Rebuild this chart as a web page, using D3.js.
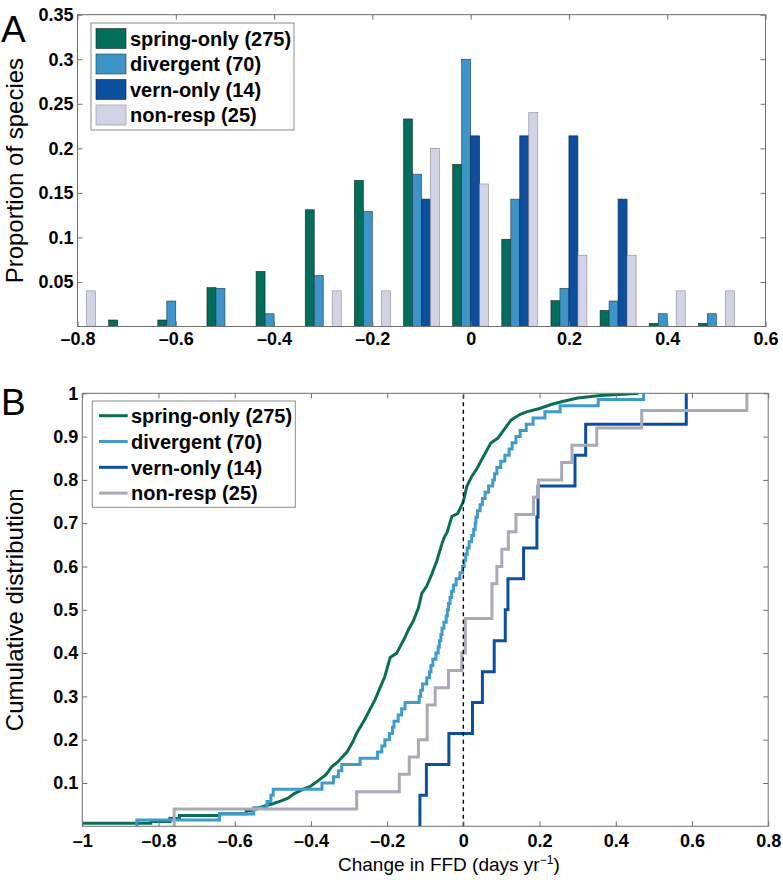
<!DOCTYPE html>
<html><head><meta charset="utf-8">
<script src="https://cdn.jsdelivr.net/npm/d3@7"></script>
<style>body{margin:0;background:#fff}</style>
</head><body>
<svg id="c" width="783" height="880"></svg>
<script>
// ---------- DATA ----------
const seriesNames = ["spring-only (275)", "divergent (70)", "vern-only (14)", "non-resp (25)"];
// Panel A: histogram bin centres and proportions
const binCenters = [-0.8, -0.7, -0.6, -0.5, -0.4, -0.3, -0.2, -0.1, 0, 0.1, 0.2, 0.3, 0.4, 0.5];
const springProp  = [0, 0.0073, 0.0073, 0.0436, 0.0618, 0.131, 0.164, 0.233, 0.182, 0.098, 0.029, 0.018, 0.0036, 0.0036];
const divergProp  = [0, 0, 0.0286, 0.0429, 0.0143, 0.0571, 0.129, 0.171, 0.300, 0.143, 0.0429, 0.0286, 0.0143, 0.0143];
const vernProp    = [0, 0, 0, 0, 0, 0, 0, 0.143, 0.214, 0.214, 0.214, 0.143, 0, 0];
const nonrespProp = [0.04, 0, 0, 0, 0, 0.04, 0.04, 0.20, 0.16, 0.24, 0.08, 0.08, 0.04, 0.04];
const xTicksA = [-0.8, -0.6, -0.4, -0.2, 0, 0.2, 0.4, 0.6];
const yTicksA = [0.05, 0.1, 0.15, 0.2, 0.25, 0.3, 0.35];

// Panel B: spring-only cumulative curve read as (change, cumulative) points
const springCdfX = [-1.0, -0.82, -0.82, -0.77, -0.77, -0.745, -0.745, -0.64, -0.64, -0.57, -0.57, -0.555, -0.53, -0.50, -0.48, -0.46, -0.445, -0.42, -0.40, -0.38, -0.36, -0.345, -0.33, -0.32, -0.305, -0.29, -0.28, -0.26, -0.245, -0.232, -0.219, -0.206, -0.192, -0.175, -0.166, -0.155, -0.144, -0.131, -0.118, -0.109, -0.096, -0.083, -0.07, -0.057, -0.05, -0.043, -0.03, -0.015, 0.0, 0.009, 0.022, 0.035, 0.052, 0.072, 0.09, 0.105, 0.125, 0.148, 0.166, 0.2, 0.23, 0.26, 0.3, 0.36, 0.42, 0.46];
const springCdfP = [0.007, 0.007, 0.011, 0.011, 0.018, 0.018, 0.025, 0.025, 0.029, 0.029, 0.036, 0.036, 0.045, 0.052, 0.058, 0.065, 0.075, 0.086, 0.093, 0.106, 0.120, 0.138, 0.148, 0.158, 0.172, 0.195, 0.215, 0.245, 0.27, 0.292, 0.319, 0.346, 0.39, 0.40, 0.415, 0.433, 0.454, 0.475, 0.504, 0.538, 0.555, 0.582, 0.612, 0.650, 0.668, 0.678, 0.716, 0.722, 0.750, 0.785, 0.808, 0.825, 0.853, 0.885, 0.896, 0.914, 0.938, 0.951, 0.957, 0.965, 0.974, 0.981, 0.989, 0.995, 0.998, 1.0];
// Panel B: per-species FFD changes (sorted) for the other groups
const divergValues = [-0.857, -0.640, -0.550, -0.515, -0.505, -0.499, -0.371, -0.341, -0.328, -0.319,
  -0.271, -0.225, -0.214, -0.206, -0.194, -0.186, -0.182, -0.171, -0.162, -0.153,
  -0.116, -0.112, -0.107, -0.096, -0.089, -0.085, -0.080, -0.072, -0.066, -0.063,
  -0.059, -0.056, -0.051, -0.045, -0.042, -0.039, -0.035, -0.031, -0.026, -0.019,
  -0.009, -0.002, 0.002, 0.006, 0.010, 0.015, 0.022, 0.027, 0.031, 0.033,
  0.037, 0.044, 0.050, 0.057, 0.066, 0.077, 0.082, 0.088, 0.098, 0.109,
  0.120, 0.128, 0.138, 0.149, 0.165, 0.183, 0.214, 0.254, 0.354, 0.473];
const vernValues = [-0.114, -0.097, -0.038, 0.024, 0.050, 0.081, 0.110, 0.117, 0.158, 0.193, 0.196, 0.293, 0.321, 0.585];
const nonrespValues = [-0.759, -0.280, -0.168, -0.142, -0.118, -0.095, -0.095, -0.074, -0.039, -0.004,
  0.005, 0.005, 0.075, 0.075, 0.088, 0.101, 0.118, 0.138, 0.184, 0.197,
  0.258, 0.285, 0.350, 0.468, 0.744];
const xTicksB = [-1, -0.8, -0.6, -0.4, -0.2, 0, 0.2, 0.4, 0.6, 0.8];
const yTicksB = [0.1, 0.2, 0.3, 0.4, 0.5, 0.6, 0.7, 0.8, 0.9, 1];

// ---------- STYLE ----------
const FONT = '"Liberation Sans", Arial, Helvetica, sans-serif';
const barFill = ["#006e5a", "#3c94c8", "#0b4f9e", "#d3d3e6"];
const barEdge = ["#1c2a26", "#1f3a4c", "#0d2345", "#8a8a96"];
const lineCol = ["#0a6e55", "#3f9bcc", "#0d4f9f", "#a9a9b8"];
const frameCol = "#6f6f6f";
const fmt = v => (v < 0 ? "\u2013" : "") + String(Math.abs(v));

const svg = d3.select("#c");

function frameAndAxes(g, x, y, xt, yt, padB, padL) {
  const [x0, x1] = x.range(), [y0, y1] = y.range();
  const bottom = d3.axisBottom(x).tickValues(xt).tickSize(-5).tickPadding(padB).tickFormat(fmt);
  const top = d3.axisTop(x).tickValues(xt).tickSize(-5).tickFormat("");
  const left = d3.axisLeft(y).tickValues(yt).tickSize(-5).tickPadding(padL).tickFormat(fmt);
  const right = d3.axisRight(y).tickValues(yt).tickSize(-5).tickFormat("");
  const axes = [
    g.append("g").attr("transform", `translate(0,${y0})`).call(bottom),
    g.append("g").attr("transform", `translate(0,${y1})`).call(top),
    g.append("g").attr("transform", `translate(${x0},0)`).call(left),
    g.append("g").attr("transform", `translate(${x1},0)`).call(right)
  ];
  axes.forEach(a => {
    a.select(".domain").remove();
    a.selectAll("line").attr("stroke", frameCol).attr("stroke-width", 1);
    a.selectAll("text").attr("fill", "#000").style("font-family", FONT)
      .style("font-size", "18px").style("font-weight", "bold");
  });
  g.append("rect").attr("x", x0).attr("y", y1).attr("width", x1 - x0).attr("height", y0 - y1)
    .attr("fill", "none").attr("stroke", frameCol).attr("stroke-width", 1);
}

// ---------- PANEL A ----------
const xA = d3.scaleLinear().domain([-0.8, 0.6]).range([77.5, 765.5]);
const yA = d3.scaleLinear().domain([0, 0.35]).range([326.5, 14.7]);
const gA = svg.append("g");
const propSeries = [springProp, divergProp, vernProp, nonrespProp];
const bw = xA(0.0183) - xA(0);
propSeries.forEach((vals, s) => {
  gA.append("g").selectAll("rect")
    .data(binCenters.map((c, i) => ({c, v: vals[i]})).filter(d => d.v > 0))
    .join("rect")
    .attr("x", d => xA(d.c) + (s - 2) * bw)
    .attr("y", d => yA(d.v))
    .attr("width", bw)
    .attr("height", d => yA(0) - yA(d.v))
    .attr("fill", barFill[s]).attr("stroke", barEdge[s]).attr("stroke-width", 0.6);
});
frameAndAxes(gA, xA, yA, xTicksA, yTicksA, 6, 4);

// legend A
const legA = gA.append("g");
legA.append("rect").attr("x", 91).attr("y", 23).attr("width", 203).attr("height", 107)
  .attr("fill", "#fff").attr("stroke", "#8c8c8c").attr("stroke-width", 1);
seriesNames.forEach((n, i) => {
  const cy = 38.5 + i * 25.5;
  legA.append("rect").attr("x", 96).attr("y", cy - 10).attr("width", 30).attr("height", 20)
    .attr("fill", barFill[i]).attr("stroke", barEdge[i]).attr("stroke-width", 0.6);
  legA.append("text").attr("x", 130).attr("y", cy).attr("dy", "0.36em").text(n)
    .style("font-family", FONT).style("font-size", "20px").style("font-weight", "bold");
});
gA.append("text").attr("transform", "translate(23,170.6) rotate(-90)").attr("text-anchor", "middle")
  .text("Proportion of species").style("font-family", FONT).style("font-size", "24px");
svg.append("text").attr("x", 1).attr("y", 42).text("A").style("font-family", FONT).style("font-size", "37px");

// ---------- PANEL B ----------
const xB = d3.scaleLinear().domain([-1, 0.8]).range([82.3, 768.2]);
const yB = d3.scaleLinear().domain([0, 1]).range([826.3, 393.3]);
const gB = svg.append("g");
svg.append("clipPath").attr("id", "clipB").append("rect")
  .attr("x", 82.3).attr("y", 393.3).attr("width", 768.2 - 82.3).attr("height", 826.3 - 393.3);

const plotB = gB.append("g").attr("clip-path", "url(#clipB)");
function ecdfPoints(vals) {
  const n = vals.length, s = vals.slice().sort((a, b) => a - b);
  const pts = [[s[0], 0]];
  s.forEach((v, i) => pts.push([v, (i + 1) / n]));
  return pts;
}
const stepLine = d3.line().x(d => xB(d[0])).y(d => yB(d[1])).curve(d3.curveStepAfter);
const linLine = d3.line().x(d => xB(d[0])).y(d => yB(d[1]));

const curves = [
  {pts: springCdfX.map((v, i) => [v, springCdfP[i]]), gen: linLine},
  {pts: ecdfPoints(divergValues), gen: stepLine},
  {pts: ecdfPoints(vernValues), gen: stepLine},
  {pts: ecdfPoints(nonrespValues), gen: stepLine}
];
curves.forEach((c, i) => {
  plotB.append("path").attr("d", c.gen(c.pts)).attr("fill", "none")
    .attr("stroke", lineCol[i]).attr("stroke-width", 3).attr("stroke-linejoin", "miter");
});
plotB.append("line").attr("x1", xB(0)).attr("x2", xB(0)).attr("y1", yB(0)).attr("y2", yB(1))
  .attr("stroke", "#000").attr("stroke-width", 1.4).attr("stroke-dasharray", "4,3.5");

frameAndAxes(gB, xB, yB, xTicksB, yTicksB, 8, 4);

// legend B
const legB = gB.append("g");
legB.append("rect").attr("x", 92.3).attr("y", 401).attr("width", 203).attr("height", 106.3)
  .attr("fill", "#fff").attr("stroke", "#8c8c8c").attr("stroke-width", 1);
seriesNames.forEach((n, i) => {
  const cy = 415.7 + i * 25.8;
  legB.append("line").attr("x1", 99).attr("x2", 127.7).attr("y1", cy).attr("y2", cy)
    .attr("stroke", lineCol[i]).attr("stroke-width", 3);
  legB.append("text").attr("x", 131).attr("y", cy).attr("dy", "0.36em").text(n)
    .style("font-family", FONT).style("font-size", "20px").style("font-weight", "bold");
});
gB.append("text").attr("transform", "translate(23,609.8) rotate(-90)").attr("text-anchor", "middle")
  .text("Cumulative distribution").style("font-family", FONT).style("font-size", "24px");
const xl = gB.append("text").attr("x", 338).attr("y", 871).attr("text-anchor", "start")
  .style("font-family", FONT).style("font-size", "19px");
xl.append("tspan").text("Change in FFD (days yr");
xl.append("tspan").attr("dy", -7).style("font-size", "12px").text("\u22121");
xl.append("tspan").attr("dy", 7).text(")");
svg.append("text").attr("x", 1).attr("y", 415).text("B").style("font-family", FONT).style("font-size", "37px");
</script>
</body></html>
